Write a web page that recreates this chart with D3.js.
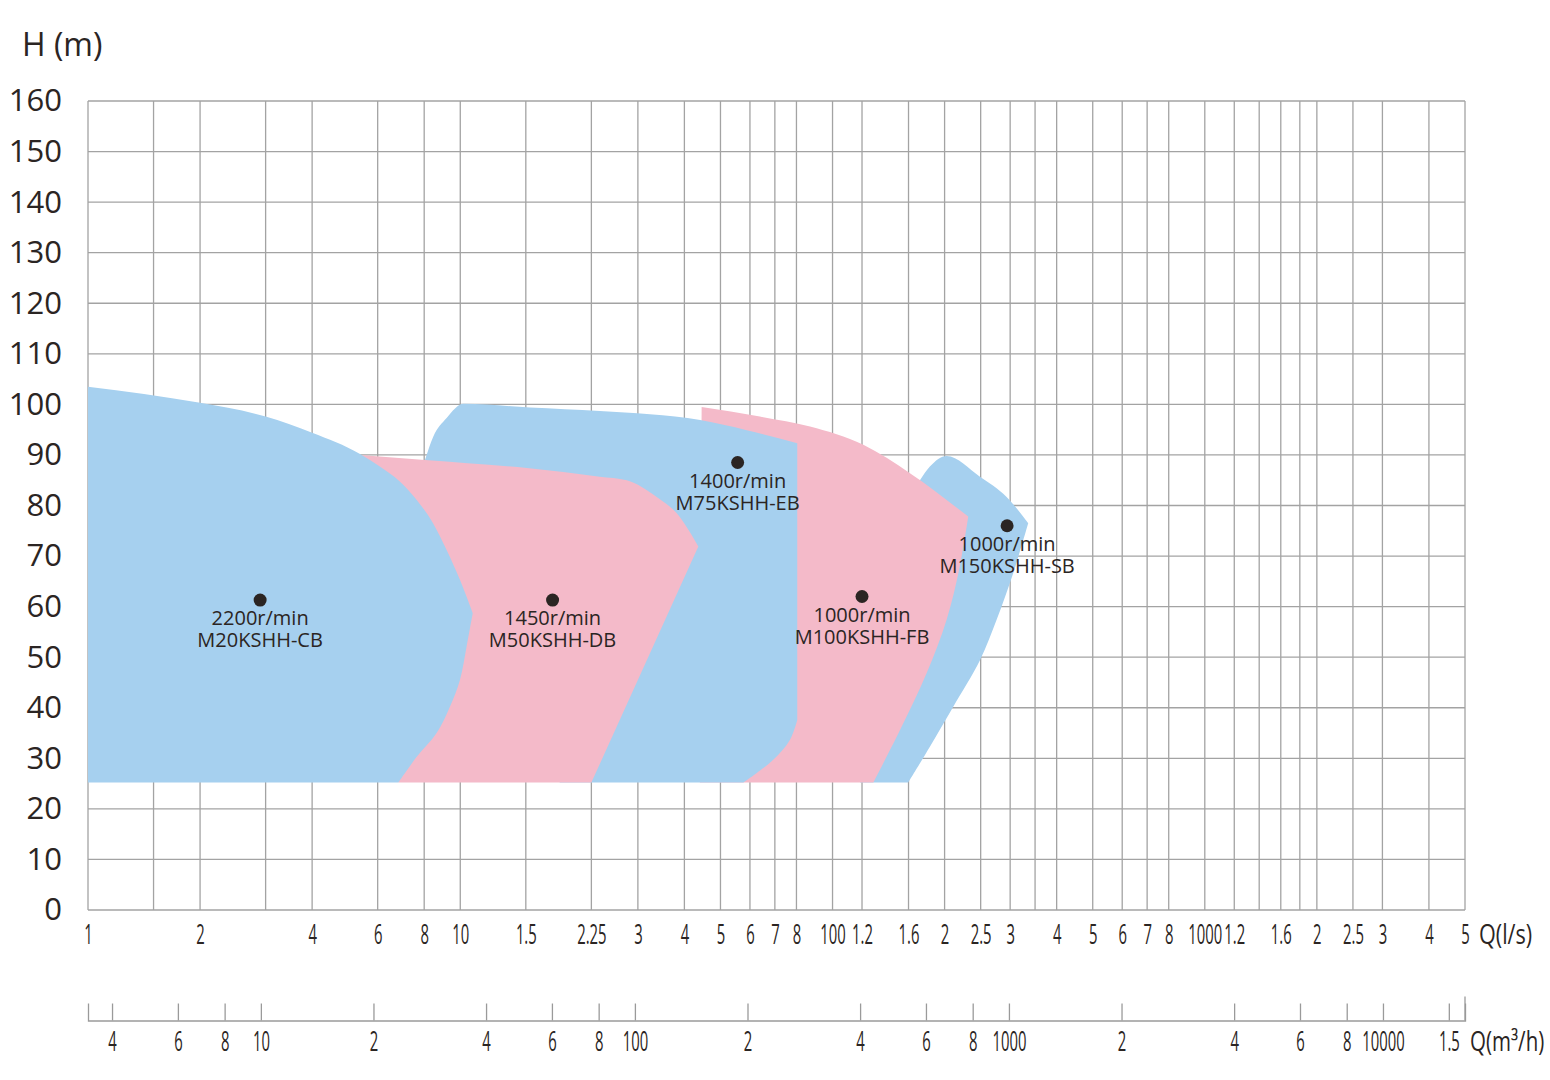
<!DOCTYPE html>
<html>
<head>
<meta charset="utf-8">
<script src="https://cdn.jsdelivr.net/npm/d3@7/dist/d3.min.js"></script>
<style>
  body { margin: 0; background: #fff; }
  text { font-family: "Open Sans", "Noto Sans", sans-serif; fill: #2b2523; }
</style>
</head>
<body>
<div id="chart"></div>
<script>
"use strict";

// Head axis (m)
const headTicks = d3.range(0, 161, 10);

// Vertical grid lines, flow in l/s
const flowGrid = [1, 1.5, 2, 3, 4, 6, 8, 10, 15, 22.5, 30, 40, 50, 60, 70, 80,
  100, 120, 160, 200, 250, 300, 350, 400, 500, 600, 700, 800,
  1000, 1200, 1400, 1600, 1800, 2000, 2500, 3000, 4000, 5000];

// Labelled flow ticks (l/s) and the text printed under them
const flowTicks = [1, 2, 4, 6, 8, 10, 15, 22.5, 30, 40, 50, 60, 70, 80,
  100, 120, 160, 200, 250, 300, 400, 500, 600, 700, 800,
  1000, 1200, 1600, 2000, 2500, 3000, 4000, 5000];
const flowLabels = ["1", "2", "4", "6", "8", "10", "1.5", "2.25", "3", "4", "5", "6", "7", "8",
  "100", "1.2", "1.6", "2", "2.5", "3", "4", "5", "6", "7", "8",
  "1000", "1.2", "1.6", "2", "2.5", "3", "4", "5"];

// Second axis, flow in m3/h
const cubicTicks = [4, 6, 8, 10, 20, 40, 60, 80, 100, 200, 400, 600, 800,
  1000, 2000, 4000, 6000, 8000, 10000, 15000];
const cubicLabels = ["4", "6", "8", "10", "2", "4", "6", "8", "100", "2", "4", "6", "8",
  "1000", "2", "4", "6", "8", "10000", "1.5"];

// Pump ranges: each outline is a list of boundary pieces [Q l/s, H m]
const m20Outline = [
  [[1, 25.2], [1, 103.5]],
  [[1, 103.5], [2.0, 100.3], [3.0, 97.6], [4.0, 94.4], [5.38, 90.2], [6.08, 87.7],
    [6.89, 84.7], [7.64, 81.1], [8.45, 76.5], [9.19, 71.2], [9.98, 65.3], [10.8, 58.7]],
  [[10.8, 58.7], [10.4, 52.1], [9.98, 45.5], [9.38, 40.2], [8.64, 35.0], [7.64, 30.3], [6.82, 25.2]],
  [[6.82, 25.2], [1, 25.2]]
];
const m50Outline = [
  [[5.38, 90.0], [8.04, 89.0], [15.1, 87.4], [23.7, 85.7], [28.0, 85.0], [33.7, 81.7],
    [38.1, 78.5], [43.6, 71.9]],
  [[43.6, 71.9], [22.5, 25.2]],
  [[22.5, 25.2], [6.82, 25.2]],
  [[6.82, 25.2], [5.38, 90.0]]
];
const m75Outline = [
  [[8.04, 89.0], [8.46, 93.6], [9.19, 97.3], [10.2, 100.1], [15.4, 99.4], [23.7, 98.7],
    [44.1, 96.9], [58.8, 94.9], [80.4, 92.3]],
  [[80.4, 92.3], [80.4, 37.6]],
  [[80.4, 37.6], [76.8, 33.6], [69.3, 29.7], [57.6, 25.2]],
  [[57.6, 25.2], [18.5, 25.2]],
  [[18.5, 25.2], [8.04, 89.0]]
];
const m100Outline = [
  [[44.0, 25.2], [44.5, 99.5]],
  [[44.5, 99.5], [63.8, 97.6], [87.0, 95.6], [121, 92.0], [161.4, 86.4], [231.5, 77.8]],
  [[231.5, 77.8], [219.6, 67.9], [202.5, 57.4], [178.9, 46.8], [151.8, 35.6], [128.7, 25.2]],
  [[128.7, 25.2], [44.0, 25.2]]
];
const m150Outline = [
  [[171.7, 85.0], [182.6, 87.7], [202.5, 89.8], [248.9, 85.7], [293.5, 81.7], [335.5, 76.5]],
  [[335.5, 76.5], [305.7, 66.6], [275.9, 57.4], [248.9, 49.4], [211, 40.2], [182.6, 32.3], [159.7, 25.2]],
  [[159.7, 25.2], [118.5, 25.2]],
  [[118.5, 25.2], [171.7, 85.0]]
];

// Drawn back to front
const pumps = [
  { outline: m150Outline, color: "#a6d0ef", point: [294.4, 76.0], speed: "1000r/min", model: "M150KSHH-SB" },
  { outline: m100Outline, color: "#f4bac9", point: [120, 62.0], speed: "1000r/min", model: "M100KSHH-FB" },
  { outline: m75Outline, color: "#a6d0ef", point: [55.6, 88.5], speed: "1400r/min", model: "M75KSHH-EB" },
  { outline: m50Outline, color: "#f4bac9", point: [17.7, 61.3], speed: "1450r/min", model: "M50KSHH-DB" },
  { outline: m20Outline, color: "#a6d0ef", point: [2.9, 61.3], speed: "2200r/min", model: "M20KSHH-CB" }
];

const width = 1550;
const height = 1080;

const svg = d3.select("#chart")
  .append("svg")
    .attr("width", width)
    .attr("height", height);

const xScale = d3.scaleLog().domain([1, 5000]).range([88, 1465]);
const yScale = d3.scaleLinear().domain([0, 160]).range([910, 101]);
// m3/h axis sits on its own log scale under the chart
const cubicScale = d3.scaleLog().domain([3.45, 16570]).range([88, 1465]);

const gridColor = "#a3a3a3";

// Grid
const grid = svg.append("g");
grid.selectAll(".h")
  .data(headTicks)
  .join("line")
    .attr("x1", xScale.range()[0])
    .attr("x2", xScale.range()[1])
    .attr("y1", d => yScale(d))
    .attr("y2", d => yScale(d))
    .attr("stroke", gridColor)
    .attr("stroke-width", 1.3);
grid.selectAll(".v")
  .data(flowGrid)
  .join("line")
    .attr("x1", d => xScale(d))
    .attr("x2", d => xScale(d))
    .attr("y1", yScale(0))
    .attr("y2", yScale(160))
    .attr("stroke", gridColor)
    .attr("stroke-width", 1.3);

// Pump areas
// flat-ish pieces running left to right get a monotone curve (no overshoot),
// steep or turning pieces a Catmull-Rom one
const flatCurve = d3.line()
  .x(d => xScale(d[0]))
  .y(d => yScale(d[1]))
  .curve(d3.curveMonotoneX);
const steepCurve = d3.line()
  .x(d => xScale(d[0]))
  .y(d => yScale(d[1]))
  .curve(d3.curveCatmullRom.alpha(0.5));

function isFlat(piece) {
  const rising = piece.every((p, i) => i === 0 || p[0] > piece[i - 1][0]);
  const dx = Math.abs(xScale(piece[piece.length - 1][0]) - xScale(piece[0][0]));
  const dy = Math.abs(yScale(piece[piece.length - 1][1]) - yScale(piece[0][1]));
  return rising && dx > dy;
}

function outlinePath(pieces) {
  return pieces.map((p, i) => {
    const d = (isFlat(p) ? flatCurve : steepCurve)(p);
    return i ? d.replace(/^M/, "L") : d;
  }).join("") + "Z";
}

svg.append("g")
  .selectAll("path")
  .data(pumps)
  .join("path")
    .attr("d", d => outlinePath(d.outline))
    .attr("fill", d => d.color);

// Operating points and labels
const marks = svg.append("g")
  .selectAll("g")
  .data(pumps)
  .join("g")
    .attr("transform", d => `translate(${xScale(d.point[0])}, ${yScale(d.point[1])})`);

marks.append("circle")
  .attr("r", 6.5)
  .attr("fill", "#2b2523");

const caption = marks.append("text")
  .attr("text-anchor", "middle")
  .attr("font-size", 20);

caption.append("tspan")
  .attr("x", 0)
  .attr("y", 25)
  .text(d => d.speed);

caption.append("tspan")
  .attr("x", 0)
  .attr("y", 47)
  .text(d => d.model);

// Y axis
const yAxis = d3.axisLeft(yScale)
  .tickValues(headTicks)
  .tickSize(0)
  .tickPadding(26);

svg.append("g")
    .attr("transform", `translate(${xScale.range()[0]}, 0)`)
    .call(yAxis)
    .call(g => g.select(".domain").remove())
    .call(g => g.selectAll("text")
      .attr("font-size", 31)
      .attr("font-family", "'Open Sans', sans-serif")
      .attr("fill", "#2b2523"));

svg.append("text")
  .attr("x", 22)
  .attr("y", 56)
  .attr("font-size", 32)
  .text("H (m)");

// Q (l/s) axis
const xAxis = d3.axisBottom(xScale)
  .tickValues(flowTicks)
  .tickFormat((d, i) => flowLabels[i])
  .tickSize(0)
  .tickPadding(15);

svg.append("g")
    .attr("transform", `translate(0, ${yScale(0)})`)
    .call(xAxis)
    .call(g => g.select(".domain").remove())
    .call(g => g.selectAll("text")
      .attr("font-size", 27)
      .attr("font-family", "'Open Sans', sans-serif")
      .attr("fill", "#2b2523")
      .attr("transform", "scale(0.55, 1)"));

svg.append("text")
  .attr("transform", `translate(1479, 944) scale(0.8, 1)`)
  .attr("font-size", 27)
  .text("Q(l/s)");

// Q (m3/h) axis
const cubicAxis = d3.axisBottom(cubicScale)
  .tickValues(cubicTicks)
  .tickFormat((d, i) => cubicLabels[i])
  .tickSizeInner(-17)
  .tickSizeOuter(-17)
  .tickPadding(11);

const cubicG = svg.append("g")
    .attr("transform", "translate(0, 1020.5)")
    .call(cubicAxis)
    .call(g => g.selectAll("line, .domain")
      .attr("stroke", "#9a9a9a")
      .attr("stroke-width", 1.3))
    .call(g => g.selectAll("text")
      .attr("font-size", 27)
      .attr("font-family", "'Open Sans', sans-serif")
      .attr("fill", "#2b2523")
      .attr("transform", "scale(0.55, 1)"));

cubicG.append("line")
  .attr("x1", cubicScale.range()[1])
  .attr("x2", cubicScale.range()[1])
  .attr("y1", 0)
  .attr("y2", -24)
  .attr("stroke", "#9a9a9a")
  .attr("stroke-width", 1.3);

svg.append("text")
  .attr("transform", `translate(1470, 1051) scale(0.76, 1)`)
  .attr("font-size", 27)
  .text("Q(m³/h)");
</script>
</body>
</html>
